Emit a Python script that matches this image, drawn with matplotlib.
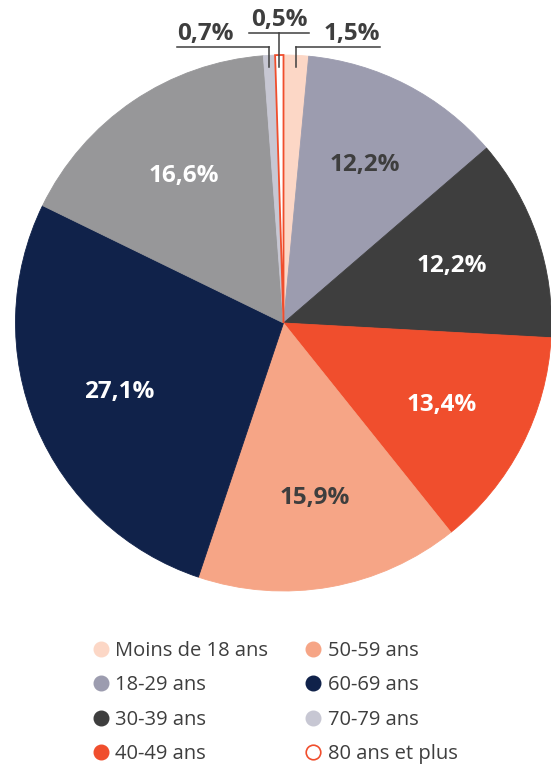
import numpy as np
import matplotlib.pyplot as plt
from matplotlib.lines import Line2D

plt.rcParams['font.family'] = ['Open Sans', 'DejaVu Sans']

# slices clockwise from 12 o'clock
slice_names = ['Moins de 18 ans', '18-29 ans', '30-39 ans', '40-49 ans',
               '50-59 ans', '60-69 ans', 'autre', '70-79 ans', '80 ans et plus']
values = [1.5, 12.2, 12.2, 13.4, 15.9, 27.1, 16.6, 0.7, 0.5]
colors = ['#FCD7C6', '#9C9CAF', '#3E3E3E', '#F04E2D', '#F6A586',
          '#10224A', '#979799', '#C7C7D3', '#FFFFFF']
text_colors = ['#3E3E3E', '#3E3E3E', 'white', 'white', '#3E3E3E',
               'white', 'white', '#3E3E3E', '#3E3E3E']

# legend entries (the 16,6% slice has none)
legend_names = ['Moins de 18 ans', '18-29 ans', '30-39 ans', '40-49 ans',
                '50-59 ans', '60-69 ans', '70-79 ans', '80 ans et plus']

dark = '#3E3E3E'
red = '#F04E2D'

W, H = 551, 766
fig = plt.figure(figsize=(W / 100, H / 100), dpi=100)
ax = fig.add_axes([0, 0, 1, 1])

cx, cy, R = 283.5, 443, 268
wedges, _ = ax.pie(values, colors=colors, startangle=90, counterclock=False,
                   center=(cx, cy), radius=R,
                   wedgeprops=dict(linewidth=0.6))
for w, c in zip(wedges, colors):
    w.set_edgecolor(c)
wedges[-1].set_edgecolor(red)
wedges[-1].set_linewidth(1.3)

def fmt(v):
    return f'{v:.1f}'.replace('.', ',') + '%'

# labels inside the big slices
for w, v, tc in zip(wedges, values, text_colors):
    if v < 5:
        continue
    th = np.deg2rad((w.theta1 + w.theta2) / 2)
    ax.text(cx + 0.665 * R * np.cos(th), cy + 0.665 * R * np.sin(th), fmt(v),
            ha='center', va='center', color=tc, fontsize=17.5, fontweight='bold')

# small slices: labels outside with leader lines
outer = {0: ('right', 719), 7: ('left', 719), 8: ('center', 733)}
for i, (side, yu) in outer.items():
    w = wedges[i]
    th = np.deg2rad((w.theta1 + w.theta2) / 2)
    xm = cx + R * np.cos(th)
    ax.plot([xm, xm], [cy + R - 12, yu], color=dark, lw=1.1)
    if side == 'right':
        x0, x1, xt = xm, xm + 84, xm + 84
    elif side == 'left':
        x0, x1, xt = xm - 92, xm, xm - 92
    else:
        x0, x1, xt = xm - 30, xm + 30, xm
    ax.plot([x0, x1], [yu, yu], color=dark, lw=1.1)
    ax.text(xt, yu + 7, fmt(values[i]), ha=side, va='baseline',
            color=dark, fontsize=17.5, fontweight='bold')

ax.set_xlim(0, W)
ax.set_ylim(0, H)
ax.set_aspect('equal')
ax.axis('off')

handles = []
for name in legend_names:
    c = colors[slice_names.index(name)]
    if name == '80 ans et plus':
        h = Line2D([], [], ls='', marker='o', markersize=10.5,
                   markerfacecolor='white', markeredgecolor=red, markeredgewidth=1.2)
    else:
        h = Line2D([], [], ls='', marker='o', markersize=10.5,
                   markerfacecolor=c, markeredgecolor=c)
    handles.append(h)

leg = ax.legend(handles, legend_names, ncol=2, loc='upper left',
                bbox_to_anchor=(91 / W, 1 - 641 / H), frameon=False,
                fontsize=14.5, handlelength=0.95, handletextpad=0.25,
                labelspacing=0.71, columnspacing=1.75, borderpad=0,
                borderaxespad=0)
for t in leg.get_texts():
    t.set_color(dark)

fig.savefig('out.png', dpi=100)
